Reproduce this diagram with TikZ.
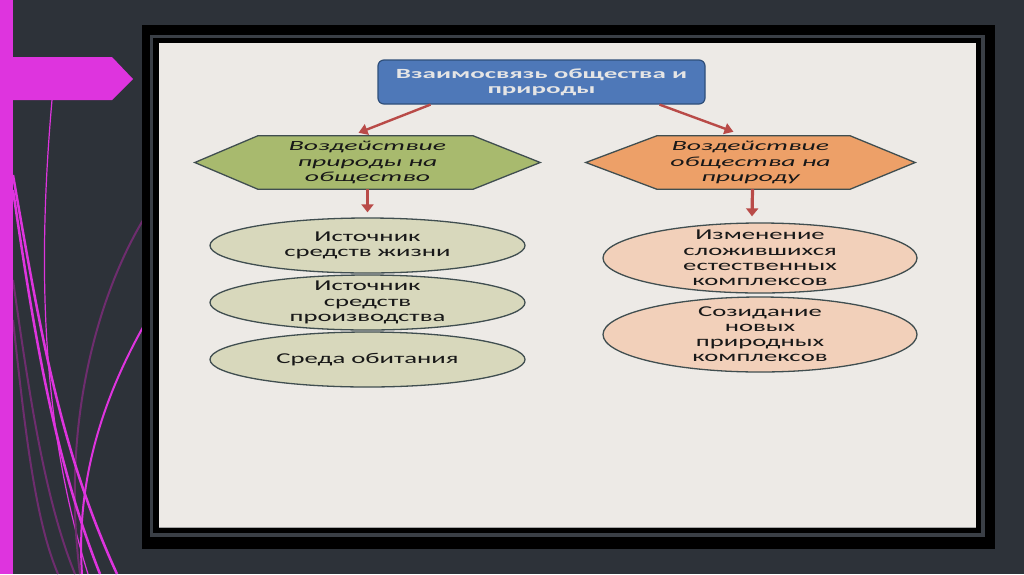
\documentclass[tikz,border=0pt]{standalone}
\usepackage{fontspec}
\usetikzlibrary{shapes.geometric,arrows.meta}
\newfontfamily\boxfont[FakeStretch=1.93]{Carlito}
\newfontfamily\hexfont[FakeStretch=1.98]{Carlito}
\newfontfamily\ellfont[FakeStretch=1.78]{Carlito}
\definecolor{bgc}{RGB}{45,50,57}
\definecolor{magc}{RGB}{222,52,222}
\definecolor{purc}{RGB}{110,45,110}
\definecolor{grayband}{RGB}{58,63,70}
\definecolor{panelc}{RGB}{237,234,230}
\definecolor{blueF}{RGB}{78,120,184}
\definecolor{blueD}{RGB}{47,79,122}
\definecolor{arrC}{RGB}{185,75,72}
\definecolor{greenF}{RGB}{168,186,110}
\definecolor{orangeF}{RGB}{237,160,104}
\definecolor{lellF}{RGB}{216,216,188}
\definecolor{rellF}{RGB}{242,208,186}
\definecolor{edgeC}{RGB}{64,78,80}
\definecolor{txtC}{RGB}{24,24,24}
\pgfdeclarelayer{bg}
\pgfsetlayers{bg,main}
\begin{document}
\begin{tikzpicture}[x=1pt,y=-1pt,
  topbox/.style={rounded corners=6pt, fill=blueF, draw=blueD, line width=1.2pt,
    minimum width=327pt, minimum height=44pt, inner sep=0pt, align=center,
    text=white!90!black, font=\boxfont\bfseries\fontsize{14}{15}\selectfont},
  hextext/.style={inner sep=0pt, align=center, text=txtC,
    font=\hexfont\itshape\fontsize{14}{15.5}\selectfont},
  hexshape/.style={draw=edgeC, line width=1.3pt, line join=miter},
  ell/.style={ellipse, draw=edgeC, line width=1.3pt, minimum width=315pt,
    inner xsep=0pt, inner ysep=-20pt, align=center, text=txtC,
    font=\ellfont\fontsize{15}{15.5}\selectfont},
  arr/.style={draw=arrC, line width=2.4pt, -{Triangle[length=9pt,width=11pt]}},
  varr/.style={draw=arrC, line width=3.2pt, -{Triangle[length=8pt,width=12pt]}}
]
\useasboundingbox (0,0) rectangle (1024,574);
\begin{pgfonlayer}{bg}
\fill[bgc] (0,0) rectangle (1024,574);
% decorative curves
\draw[magc, line width=1.2pt] (52,100) .. controls (38,260) and (40,420) .. (88,574);
\draw[purc, line width=2pt] (13,280) .. controls (30,400) and (45,500) .. (75,574);
\draw[purc, line width=2pt] (13,320) .. controls (25,430) and (35,520) .. (58,574);
\draw[purc, line width=2pt] (156,200) .. controls (100,280) and (60,420) .. (80,574);
\draw[magc, line width=2.5pt] (13,175) .. controls (40,330) and (60,450) .. (117,574);
\draw[magc, line width=2.5pt] (13,190) .. controls (35,340) and (55,460) .. (100,574);
\draw[magc, line width=2pt] (156,305) .. controls (110,380) and (75,470) .. (82,574);
% left bar and banner
\fill[magc] (0,0) rectangle (13,574);
\fill[magc] (13,57) -- (112,57) -- (133,79) -- (112,100) -- (13,100) -- cycle;
% frame
\fill[black] (142,25) rectangle (995,549);
\fill[grayband] (150,35) rectangle (985,537);
\fill[black] (153,38) rectangle (981,533);
\fill[panelc] (159,43) rectangle (976,528);
\draw[black!35, line width=1pt] (159,527.5) -- (976,527.5);
\end{pgfonlayer}

\node[topbox] (top) at (541.5,82) {Взаимосвязь общества и\\природы};

\node[hextext, minimum width=345pt, minimum height=53pt] (lhex) at (367.5,162.5)
  {Воздействие\\природы на\\общество};
\node[hextext, minimum width=329pt, minimum height=53pt] (rhex) at (750.5,162.5)
  {Воздействие\\общества на\\природу};

\begin{pgfonlayer}{bg}
\path[hexshape, fill=greenF] (lhex.west) -- ([xshift=63pt]lhex.north west) -- ([xshift=-67pt]lhex.north east)
  -- (lhex.east) -- ([xshift=-67pt]lhex.south east) -- ([xshift=63pt]lhex.south west) -- cycle;
\path[hexshape, fill=orangeF] (rhex.west) -- ([xshift=71pt]rhex.north west) -- ([xshift=-65pt]rhex.north east)
  -- (rhex.east) -- ([xshift=-65pt]rhex.south east) -- ([xshift=71pt]rhex.south west) -- cycle;
\end{pgfonlayer}

\node[ell, fill=lellF, minimum height=55pt] (le1) at (367.5,245.5) {Источник\\средств жизни};
\node[ell, fill=lellF, minimum height=55pt] (le2) at (367.5,302.5) {Источник\\средств\\производства};
\node[ell, fill=lellF, minimum height=55pt] (le3) at (367.5,359.5) {Среда обитания};

\node[ell, fill=rellF, minimum width=314pt, minimum height=70pt, font=\ellfont\fontsize{15}{15.2}\selectfont] (re1) at (760,258)
  {Изменение\\сложившихся\\естественных\\комплексов};
\node[ell, fill=rellF, minimum width=314pt, minimum height=75pt, font=\ellfont\fontsize{15}{15}\selectfont] (re2) at (760,334.5)
  {Созидание\\новых\\природных\\комплексов};

\draw[arr] ([xshift=-111pt]top.south) -- ([xshift=-9pt,yshift=3pt]lhex.north);
\draw[arr] ([xshift=118pt]top.south) -- ([xshift=-17pt,yshift=4pt]rhex.north);
\draw[varr] (lhex.south) -- ([yshift=5pt]le1.north);
\draw[varr] ([xshift=2pt]rhex.south) -- ([xshift=-8pt,yshift=6pt]re1.north);
\end{tikzpicture}
\end{document}
